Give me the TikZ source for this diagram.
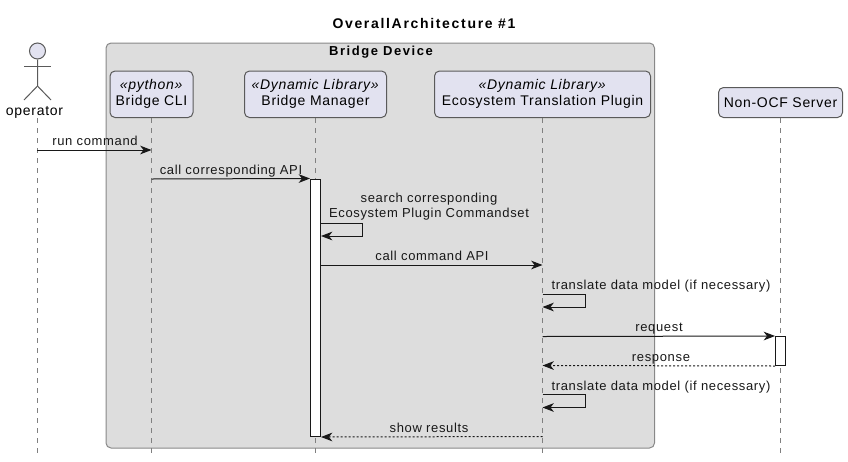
\documentclass[tikz,border=0pt]{standalone}
\usepackage{fontspec}
\setmainfont{Liberation Sans}[LetterSpace=5]
\newfontfamily\titlefont{Liberation Sans}[LetterSpace=12]
\usetikzlibrary{shapes, arrows.meta, positioning, fit, calc}
\def\px{0.75pt}
\definecolor{partfill}{HTML}{E2E2F0}
\definecolor{partline}{HTML}{5A5A5A}
\definecolor{devfill}{HTML}{DDDDDD}
\definecolor{devline}{HTML}{888888}
\definecolor{msgcol}{HTML}{181818}
\definecolor{lifecol}{HTML}{808080}
\tikzset{
  participant/.style={draw=partline, fill=partfill, rounded corners=3.75pt, line width=0.75pt, inner sep=0pt, align=center, font=\fontsize{10.5}{12}\selectfont, text=black},
  lifeline/.style={draw=lifecol, line width=0.75pt, dash pattern=on 3.75pt off 3.75pt},
  msgline/.style={draw=msgcol, line width=0.75pt, -{Stealth[length=8.5pt,width=6.5pt,inset=2.5pt]}},
  replyline/.style={msgline, dash pattern=on 1.5pt off 1.5pt},
  activation/.style={draw=msgcol, fill=white, line width=0.75pt, minimum width=10*\px, inner sep=0pt},
  msglabel/.style={anchor=base, font=\fontsize{9.75}{10.9}\selectfont, text=msgcol, inner sep=0pt, align=center}
}
\begin{document}
\begin{tikzpicture}[x=0.75pt, y=-0.75pt]
      \useasboundingbox (0,0) rectangle (848,461);
      % group
      \node[draw=devline, fill=devfill, rounded corners=3.75pt, line width=0.75pt, minimum width=548.5*\px, minimum height=405*\px, inner sep=0pt] (device) at (380.25,245.5) {};
      \node[anchor=base, inner sep=0pt, font=\titlefont\fontsize{9.75}{12}\selectfont\bfseries] (devicetitle) at (381,55.5) {Bridge Device};
      \node[anchor=base, inner sep=0pt, font=\titlefont\fontsize{10.5}{12}\selectfont\bfseries] (title) at (424,28) {OverallArchitecture \#1};
      % participants
      \node[participant, minimum width=83*\px, minimum height=46.5*\px] (cli) at (151.5,94.25) {\textit{«python»}\\Bridge CLI};
      \node[participant, minimum width=142*\px, minimum height=46.5*\px] (manager) at (315.5,94.25) {\textit{«Dynamic Library»}\\Bridge Manager};
      \node[participant, minimum width=216*\px, minimum height=46.5*\px] (plugin) at (542.5,94.25) {\textit{«Dynamic Library»}\\Ecosystem Translation Plugin};
      \node[participant, minimum width=124*\px, minimum height=30*\px] (server) at (780.5,102.5) {Non-OCF Server};
      % actor
      \node[draw=partline, fill=partfill, circle, minimum size=16*\px, inner sep=0pt, line width=0.75pt] (head) at (37.5,51) {};
      \node[anchor=base, inner sep=0pt, font=\fontsize{10.5}{12}\selectfont] (operator) at (34.5,115) {operator};
      \coordinate (hip) at (37.5,86);
      \coordinate (armL) at (24,66.5);
      \coordinate (armR) at (51,66.5);
      \coordinate (legL) at (24,100);
      \coordinate (legR) at (51,100);
      \draw[draw=partline, line width=0.75pt] (head.south) -- (hip) -- (legL);
      \draw[draw=partline, line width=0.75pt] (hip) -- (legR);
      \draw[draw=partline, line width=0.75pt] (armL) -- (armR);
      % lifelines
      \coordinate (bottom) at (0,454);
      \coordinate (optop) at (37,118);
      \draw[lifeline] (optop) -- (optop |- bottom);
      \draw[lifeline] (cli.south) -- (cli.south |- bottom);
      \draw[lifeline] (manager.south) -- (manager.south |- bottom);
      \draw[lifeline] (plugin.south) -- (plugin.south |- bottom);
      \draw[lifeline] (server.south) -- (server.south |- bottom);
      % activations
      \node[activation, minimum height=257.5*\px] (manageract) at (315.5,307.75) {};
      \node[activation, minimum height=29*\px] (serveract) at (780.5,351) {};
      % message rows
      \coordinate (r1) at (0,150);
      \coordinate (r2) at (0,179);
      \coordinate (r3) at (362.5,223);
      \coordinate (r3b) at (362.5,236);
      \coordinate (r4) at (0,265);
      \coordinate (r5) at (585,294);
      \coordinate (r5b) at (585,307);
      \coordinate (r6) at (0,336.5);
      \coordinate (r7) at (0,365.5);
      \coordinate (r8) at (585,394.5);
      \coordinate (r8b) at (585,407.5);
      \coordinate (r9) at (0,436.5);
      \draw[msgline] (optop |- r1) -- (cli.south |- r1);
      \draw[msgline] (cli.south |- r2) -- (manageract.north west);
      \draw[msgline] (manageract.east |- r3) -- (r3) -- (r3b) -- (manageract.east |- r3b);
      \draw[msgline] (manageract.east |- r4) -- (plugin.south |- r4);
      \draw[msgline] (plugin.south |- r5) -- (r5) -- (r5b) -- (plugin.south |- r5b);
      \draw[msgline] (plugin.south |- r6) -- (serveract.north west);
      \draw[replyline] (serveract.south west) -- (plugin.south |- r7);
      \draw[msgline] (plugin.south |- r8) -- (r8) -- (r8b) -- (plugin.south |- r8b);
      \draw[replyline] (plugin.south |- r9) -- (manageract.south east);
      % labels
      \node[msglabel] (runlabel) at (95,145.5) {run command};
      \node[msglabel] (calllabel) at (231,174) {call corresponding API};
      \node[msglabel, anchor=center] (searchlabel) at (429,206.5) {search corresponding\\Ecosystem Plugin Commandset};
      \node[msglabel] (cmdlabel) at (432,260) {call command API};
      \node[msglabel] (translatea) at (661,289.5) {translate data model (if necessary)};
      \node[msglabel] (requestlabel) at (659,331) {request};
      \node[msglabel] (responselabel) at (661,361) {response};
      \node[msglabel] (translateb) at (661,390.5) {translate data model (if necessary)};
      \node[msglabel] (showlabel) at (429,432) {show results};
    \end{tikzpicture}
\end{document}
